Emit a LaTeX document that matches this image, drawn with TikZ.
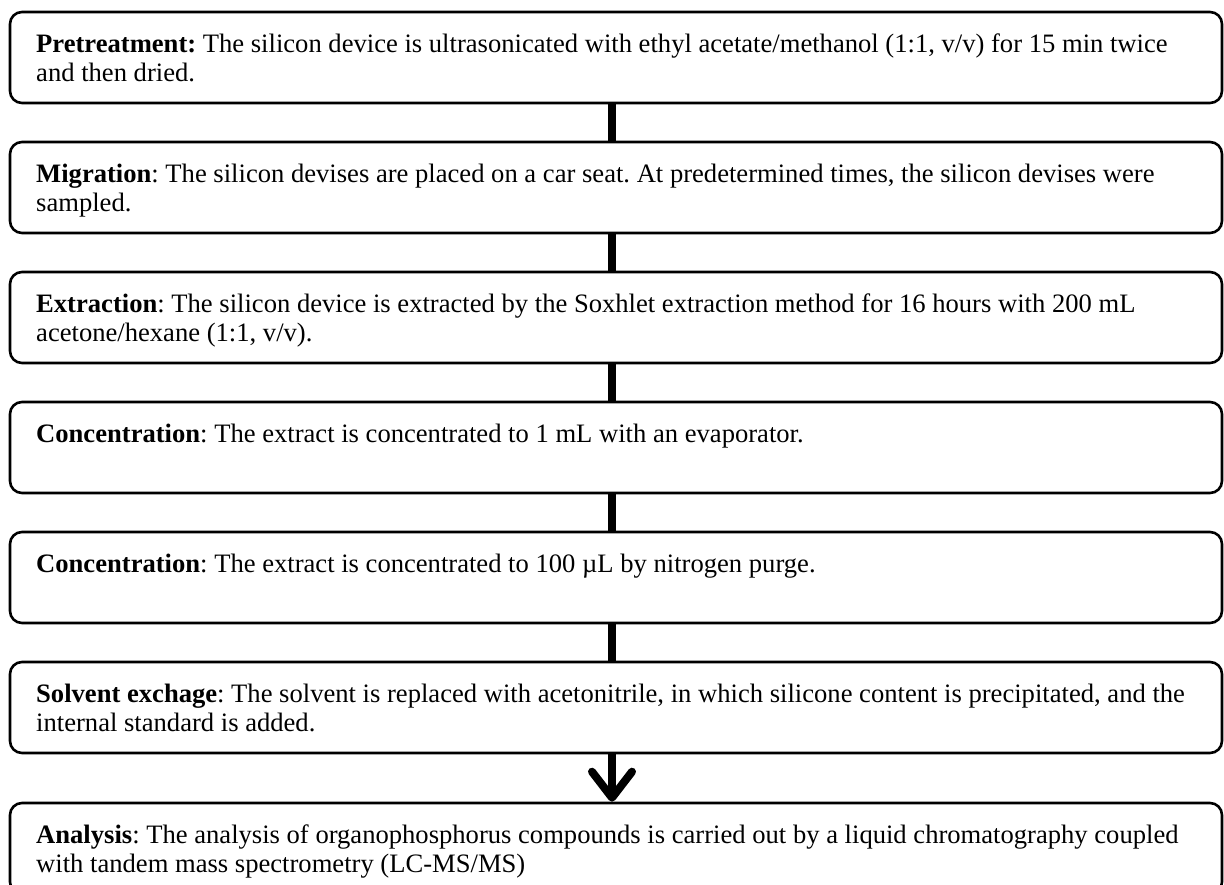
\documentclass[tikz,border=0pt]{standalone}
\usepackage{fontspec}
\setmainfont{Liberation Serif}
\usetikzlibrary{arrows.meta}
\frenchspacing

\tikzset{
  stepbox/.style={draw=black,line width=2.6,rounded corners=12pt,
    minimum width=1212pt,minimum height=91pt,inner sep=0pt},
  steptext/.style={anchor=north west,align=left,inner sep=0pt,
    font=\fontsize{26.6}{29.5}\selectfont},
  steplink/.style={line width=8},
}

\begin{document}
\begin{tikzpicture}[x=1pt,y=-1pt]

    \clip (0,0) rectangle (1224,884);

    \node[stepbox] (pre) at (616,57.5) {};
    \node[steptext] (pretxt) at (36,31.4)
    {\strut\textbf{Pretreatment:} The silicon device is ultrasonicated with ethyl acetate/methanol (1:1, v/v) for 15 min twice\\
      and then dried.};



    \node[stepbox] (mig) at (616,187.5) {};
    \node[steptext] (migtxt) at (36,161.4)
    {\strut\textbf{Migration}: The silicon devises are placed on a car seat. At predetermined times, the silicon devises were\\
      sampled.};



    \node[stepbox] (ext) at (616,317.5) {};
    \node[steptext] (exttxt) at (36,291.4)
    {\strut\textbf{Extraction}: The silicon device is extracted by the Soxhlet extraction method for 16 hours with 200 mL\\
      acetone/hexane (1:1, v/v).};



    \node[stepbox] (conca) at (616,447.5) {};
    \node[steptext] (concatxt) at (36,421.4)
    {\strut\textbf{Concentration}: The extract is concentrated to 1 mL with an evaporator.};



    \node[stepbox] (concb) at (616,577.5) {};
    \node[steptext] (concbtxt) at (36,551.4)
    {\strut\textbf{Concentration}: The extract is concentrated to 100 µL by nitrogen purge.};



    \node[stepbox] (sol) at (616,707.5) {};
    \node[steptext] (soltxt) at (36,681.4)
    {\strut\textbf{Solvent exchage}: The solvent is replaced with acetonitrile, in which silicone content is precipitated, and the\\
      internal standard is added.};



    \node[stepbox] (ana) at (616,848.5) {};
    \node[steptext] (anatxt) at (36,822.4)
    {\strut\textbf{Analysis}: The analysis of organophosphorus compounds is carried out by a liquid chromatography coupled\\
      with tandem mass spectrometry (LC-MS/MS)};



    \draw[steplink] ([xshift=-4]pre.south) -- ([xshift=-4]mig.north);
    \draw[steplink] ([xshift=-4]mig.south) -- ([xshift=-4]ext.north);
    \draw[steplink] ([xshift=-4]ext.south) -- ([xshift=-4]conca.north);
    \draw[steplink] ([xshift=-4]conca.south) -- ([xshift=-4]concb.north);
    \draw[steplink] ([xshift=-4]concb.south) -- ([xshift=-4]sol.north);

    \draw[steplink,-{Straight Barb[round,length=26pt,width=40pt]}]
    ([xshift=-4]sol.south) -- ([xshift=-4]ana.north);

\end{tikzpicture}
\end{document}
